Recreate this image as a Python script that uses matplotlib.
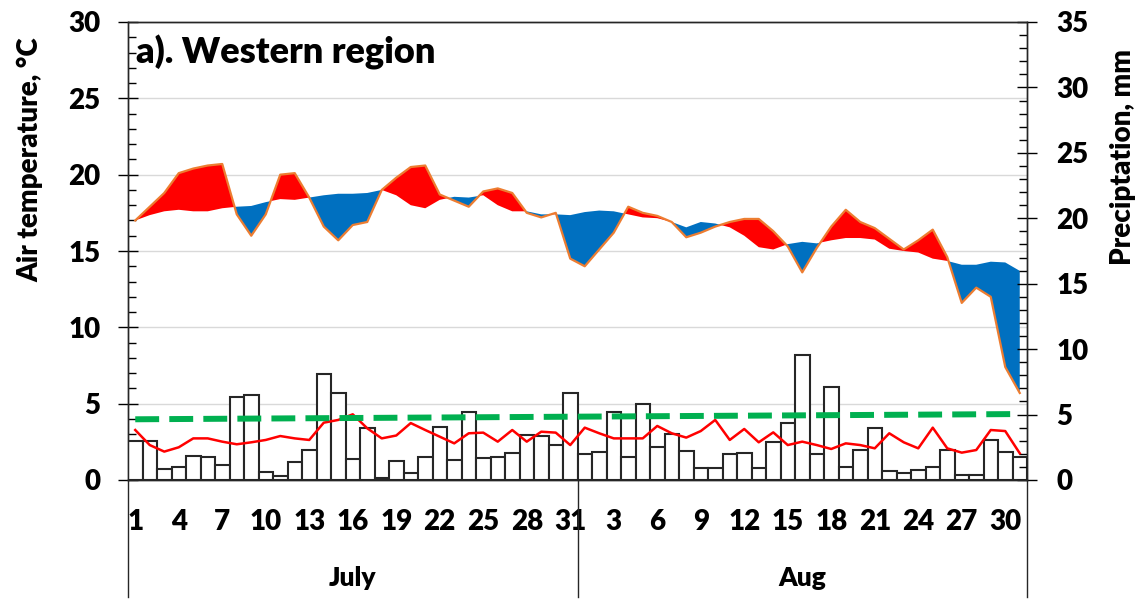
import matplotlib
matplotlib.use('Agg')
import matplotlib.pyplot as plt
import numpy as np

plt.rcParams['font.family'] = ['Lato', 'DejaVu Sans']
plt.rcParams['font.weight'] = 'heavy'

# ---------------- data ----------------
july_days = [str(d) for d in range(1, 32)]
aug_days = [str(d) for d in range(1, 32)]
months = ['July', 'Aug']

# air temperature, actual (°C)
t_actual = [17.0, 17.9, 18.8, 20.1, 20.4, 20.6, 20.7, 17.4, 16.0, 17.4,
            20.0, 20.1, 18.5, 16.6, 15.7, 16.7, 16.9, 19.0, 19.8, 20.5,
            20.6, 18.7, 18.3, 17.9, 18.9, 19.1, 18.8, 17.5, 17.2, 17.5, 14.5,
            14.0, 15.1, 16.2, 17.9, 17.5, 17.3, 16.9, 15.9, 16.2, 16.6,
            16.9, 17.1, 17.1, 16.3, 15.3, 13.6, 15.2, 16.6, 17.7, 16.9,
            16.5, 15.8, 15.1, 15.7, 16.4, 14.6, 11.6, 12.6, 12.0, 7.4, 5.7]
# air temperature, long-term normal (°C)
t_normal = [17.0, 17.35, 17.6, 17.7, 17.6, 17.6, 17.8, 17.9, 17.95, 18.2,
            18.4, 18.35, 18.5, 18.65, 18.75, 18.75, 18.8, 19.0, 18.65, 18.0,
            17.8, 18.35, 18.55, 18.5, 18.65, 18.0, 17.6, 17.6, 17.4, 17.4, 17.35,
            17.55, 17.65, 17.6, 17.4, 17.2, 17.15, 16.9, 16.55, 16.9, 16.8,
            16.55, 16.0, 15.25, 15.1, 15.45, 15.6, 15.5, 15.7, 15.85, 15.85,
            15.75, 15.15, 15.0, 14.9, 14.5, 14.35, 14.1, 14.1, 14.3, 14.25, 13.7]
# precipitation (mm), bars
precip = [2.98, 2.98, 0.84, 1.02, 1.86, 1.76, 1.12, 6.37, 6.52, 0.59,
          0.33, 1.35, 2.29, 8.10, 6.67, 1.58, 3.95, 0.15, 1.48, 0.51,
          1.78, 4.03, 1.53, 5.22, 1.66, 1.78, 2.09, 3.44, 3.36, 2.65, 6.62,
          1.99, 2.11, 5.17, 1.78, 5.81, 2.55, 3.49, 2.22, 0.94, 0.89,
          1.99, 2.04, 0.94, 2.88, 4.33, 9.55, 1.96, 7.13, 1.02, 2.29,
          3.95, 0.69, 0.51, 0.76, 1.02, 2.29, 0.38, 0.38, 3.06, 2.11, 1.78]
# precipitation, red line (mm)
precip_line = [3.82, 2.67, 2.17, 2.50, 3.18, 3.18, 2.93, 2.73, 2.88, 3.06,
               3.36, 3.18, 3.06, 4.38, 4.59, 5.02, 3.95, 3.18, 3.40, 4.35,
               3.82, 3.31, 2.80, 3.57, 3.62, 2.93, 3.82, 2.93, 3.69, 3.62, 2.67,
               4.00, 3.57, 3.18, 3.18, 3.18, 4.13, 3.57, 3.24, 3.74, 4.59,
               3.06, 3.90, 2.88, 3.64, 2.67, 2.93, 2.67, 2.37, 2.80, 2.67,
               2.42, 3.57, 2.88, 2.42, 4.00, 2.42, 2.09, 2.29, 3.82, 3.74, 2.04]
# linear trend (green dashed), start and end values (mm)
trend_days = [0, 61]
trend_vals = [4.64, 5.04]

# ---------------- plot ----------------
day_labels = july_days + aug_days
x = np.arange(len(day_labels))
ta = np.array(t_actual)
tn = np.array(t_normal)

fig = plt.figure(figsize=(11.42, 6), dpi=100)
ax = fig.add_axes([128/1142, 120/600, 899/1142, 458/600])
ax2 = ax.twinx()

ax.fill_between(x, tn, ta, where=ta >= tn, interpolate=True,
                color='#FF0000', lw=0)
ax.fill_between(x, tn, ta, where=ta <= tn, interpolate=True,
                color='#0070C0', lw=0)
ax.plot(x, ta, color='#ED7D31', lw=1.6)

ax2.bar(x, precip, width=1.0, facecolor='white', edgecolor='#262626', lw=1.5)
ax2.plot(x, precip_line, color='#FF0000', lw=1.8)
ax2.plot(trend_days, trend_vals, color='#00B050', lw=4.3, dashes=(4, 1.7))

ax.set_xlim(-0.5, len(x) - 0.5)
ax.set_ylim(0, 30)
ax2.set_ylim(0, 35)

ax.set_yticks(range(0, 31, 5))
ax.set_yticks(range(0, 31), minor=True)
ax2.set_yticks(range(0, 36, 5))
ax2.set_yticks(range(0, 36), minor=True)
ax.grid(axis='y', which='major', color='#d9d9d9', lw=1)
ax.set_axisbelow(True)

ax.tick_params(axis='y', which='major', direction='inout', length=14,
               width=1, labelsize=20, pad=13)
ax.tick_params(axis='y', which='minor', direction='in', length=6, width=1)
ax2.tick_params(axis='y', which='major', direction='inout', length=14,
                width=1, labelsize=20, pad=14)
ax2.tick_params(axis='y', which='minor', direction='in', length=6, width=1)

ax.set_xticks(x[::3])
ax.set_xticklabels([day_labels[i] for i in x[::3]])
ax.tick_params(axis='x', length=0, labelsize=20, pad=21)

for a in (ax, ax2):
    for s in a.spines.values():
        s.set_color('#262626')
        s.set_linewidth(1.0)

# month separators and labels
trans = ax.get_xaxis_transform()
n_jul = len(july_days)
for xv in (-0.5, n_jul - 0.5, len(x) - 0.5):
    ax.plot([xv, xv], [0, -0.255], transform=trans, color='#262626',
            lw=1, clip_on=False)
ax.text((n_jul - 1) / 2, -0.214, months[0], transform=trans, ha='center',
        va='center', fontsize=19)
ax.text(n_jul + (len(aug_days) - 1) / 2, -0.214, months[1], transform=trans,
        ha='center', va='center', fontsize=19)

ax.text(0.009, 0.934, 'a). Western region', transform=ax.transAxes,
        ha='left', va='center', fontsize=26)

fig.text(30/1142, 1 - 160/600, 'Air temperature, °C', rotation=90,
         ha='center', va='center', fontsize=20)
fig.text(1123/1142, 1 - 157/600, 'Preciptation, mm', rotation=90,
         ha='center', va='center', fontsize=20)

fig.savefig('out.png', dpi=100)
